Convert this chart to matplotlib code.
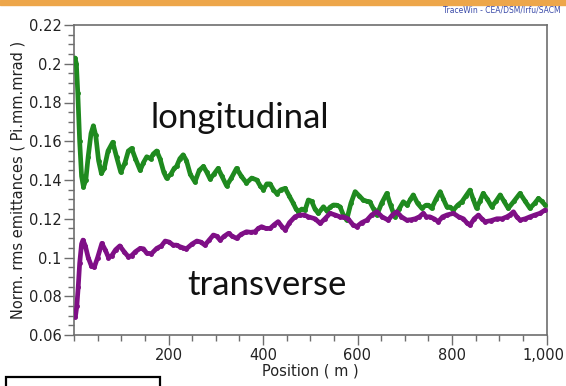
import matplotlib
matplotlib.use("Agg")
import matplotlib.pyplot as plt
import matplotlib.transforms as mtransforms
from matplotlib.ticker import MultipleLocator, FuncFormatter
from matplotlib.patches import Rectangle
import numpy as np

# ---- data ----
long_pos = [2, 5, 8, 12, 16, 20, 25, 30, 36, 41, 46, 52, 58, 64, 72, 82, 90, 99, 108, 115,
            122, 130, 140, 147, 154, 162, 168, 175, 182, 190, 196, 205, 212, 217, 224, 231,
            238, 246, 256, 265, 274, 281, 288, 296, 305, 313, 323, 333, 344, 354, 365, 376,
            387, 394, 401, 408, 415, 422, 429, 438, 447, 455, 464, 470, 475, 482, 489, 496,
            503, 510, 517, 528, 535, 542, 549, 556, 563, 570, 577, 586, 595, 603, 612, 620,
            626, 634, 641, 651, 662, 670, 679, 688, 697, 705, 712, 718, 727, 736, 745, 750,
            757, 766, 775, 782, 789, 796, 803, 812, 821, 830, 838, 845, 852, 859, 866, 875,
            884, 893, 902, 910, 919, 931, 944, 955, 965, 975, 983, 990, 997]
long_val = [0.203, 0.200, 0.185, 0.160, 0.142, 0.1365, 0.140, 0.152, 0.164, 0.168, 0.163, 0.150,
            0.1434, 0.146, 0.155, 0.1595, 0.152, 0.144, 0.149, 0.155, 0.1563, 0.151, 0.145,
            0.149, 0.152, 0.151, 0.1535, 0.155, 0.151, 0.144, 0.1409, 0.143, 0.146, 0.147,
            0.151, 0.153, 0.150, 0.143, 0.139, 0.145, 0.147, 0.144, 0.1405, 0.143, 0.146,
            0.142, 0.137, 0.141, 0.146, 0.142, 0.1385, 0.141, 0.140, 0.137, 0.135, 0.138,
            0.138, 0.135, 0.133, 0.135, 0.1357, 0.132, 0.128, 0.125, 0.1237, 0.125, 0.1245,
            0.1297, 0.129, 0.125, 0.1228, 0.1262, 0.124, 0.126, 0.1271, 0.127, 0.1262, 0.122,
            0.1193, 0.128, 0.134, 0.132, 0.1297, 0.129, 0.1288, 0.125, 0.1219, 0.128, 0.1331,
            0.127, 0.121, 0.125, 0.1288, 0.127, 0.130, 0.1323, 0.128, 0.1254, 0.127, 0.127,
            0.1254, 0.130, 0.134, 0.130, 0.1262, 0.126, 0.1245, 0.127, 0.1288, 0.132, 0.1348,
            0.130, 0.1254, 0.129, 0.1331, 0.130, 0.1262, 0.129, 0.1323, 0.129, 0.1254, 0.129,
            0.1331, 0.129, 0.1254, 0.128, 0.1305, 0.129, 0.1271]

trans_pos = [3, 6, 9, 12, 16, 19, 24, 30, 37, 43, 50, 59, 66, 73, 80, 88, 97, 106, 115, 122,
             130, 140, 147, 154, 164, 175, 185, 193, 201, 210, 217, 224, 231, 238, 250, 260,
             268, 277, 286, 295, 302, 309, 318, 327, 335, 344, 354, 365, 374, 383, 390, 397,
             406, 415, 424, 432, 440, 447, 456, 468, 478, 487, 496, 510, 521, 531, 542, 552,
             563, 570, 580, 590, 598, 609, 620, 630, 641, 652, 665, 674, 683, 693, 704, 713,
             722, 731, 739, 746, 753, 762, 771, 780, 790, 803, 814, 824, 831, 838, 847, 856,
             863, 870, 882, 895, 906, 916, 923, 930, 937, 944, 955, 965, 976, 986, 997]
trans_val = [0.0695, 0.075, 0.085, 0.097, 0.107, 0.109, 0.106, 0.100, 0.0955, 0.095, 0.100,
             0.1073, 0.104, 0.100, 0.101, 0.104, 0.106, 0.103, 0.1004, 0.101, 0.103, 0.1047,
             0.1045, 0.1022, 0.102, 0.1047, 0.106, 0.1085, 0.108, 0.1064, 0.1064, 0.1056,
             0.105, 0.1045, 0.107, 0.1085, 0.108, 0.1064, 0.109, 0.1116, 0.111, 0.109, 0.111,
             0.1125, 0.111, 0.1099, 0.112, 0.1133, 0.113, 0.1133, 0.115, 0.1159, 0.115, 0.115,
             0.117, 0.1185, 0.116, 0.1142, 0.118, 0.1211, 0.1219, 0.122, 0.121, 0.120, 0.1176,
             0.120, 0.1228, 0.122, 0.121, 0.121, 0.120, 0.117, 0.1159, 0.118, 0.1193, 0.122,
             0.1236, 0.121, 0.1193, 0.122, 0.1236, 0.121, 0.1193, 0.1195, 0.120, 0.121, 0.1228,
             0.121, 0.121, 0.120, 0.1185, 0.121, 0.122, 0.1228, 0.121, 0.120, 0.118, 0.1167,
             0.120, 0.1219, 0.120, 0.1185, 0.119, 0.120, 0.120, 0.121, 0.122, 0.1236, 0.121,
             0.1193, 0.120, 0.121, 0.122, 0.1228, 0.1245]

x_ticks = [200, 400, 600, 800, 1000]
y_ticks = [0.06, 0.08, 0.1, 0.12, 0.14, 0.16, 0.18, 0.2, 0.22]

green = "#1f8a1f"
purple = "#7f0f86"

fig = plt.figure(figsize=(5.66, 3.86), dpi=100)
fig.patch.set_facecolor("white")
ax = fig.add_axes([74/566, 1-335/386, (546.5-74)/566, (335-25)/386])

ax.plot(long_pos, long_val, color=green, lw=3.4, marker="o", ms=2.5,
        solid_joinstyle="round", solid_capstyle="round", zorder=3)
ax.plot(trans_pos, trans_val, color=purple, lw=3.4, marker="o", ms=2.5,
        solid_joinstyle="round", solid_capstyle="round", zorder=4)

ax.set_xlim(0, 1000)
ax.set_ylim(0.06, 0.22)
ax.set_xticks(x_ticks)
ax.set_yticks(y_ticks)
ax.xaxis.set_minor_locator(MultipleLocator(50))
ax.yaxis.set_minor_locator(MultipleLocator(0.005))
ax.xaxis.set_major_formatter(FuncFormatter(lambda v, p: f"{int(v):,}"))
ax.yaxis.set_major_formatter(FuncFormatter(lambda v, p: f"{v:.2f}".rstrip("0").rstrip(".") if abs(v - round(v, 1)) < 1e-9 else f"{v:.2f}"))

spine_col = "#6e6e6e"
for s in ax.spines.values():
    s.set_color(spine_col)
    s.set_linewidth(1.2)
ax.tick_params(which="major", direction="out", length=7, width=1.0, color=spine_col,
               labelsize=10.5, labelcolor="#222222", pad=2)
ax.tick_params(which="minor", direction="out", length=4, width=1.0, color=spine_col)
ax.tick_params(top=False, right=False, which="both")

ax.set_xlabel("Position ( m )", fontsize=10.5, color="#222222", labelpad=1)
ax.set_ylabel("Norm. rms emittances ( Pi.mm.mrad )", fontsize=10.5, color="#222222", labelpad=2)

ax.text(351, 0.172, "longitudinal", fontsize=25, family="Lato", color="#111111",
        ha="center", va="center")
ax.text(408, 0.0858, "transverse", fontsize=25, family="Lato", color="#111111",
        ha="center", va="center")

# nudge the last x tick label so it stays inside the picture
fig.canvas.draw()
last = ax.get_xticklabels()[-1]
last.set_transform(last.get_transform() + mtransforms.ScaledTranslation(-3/100, 0, fig.dpi_scale_trans))

# watermark and decorations
fig.text(0.99, 0.975, "TraceWin - CEA/DSM/Irfu/SACM", fontsize=5.5, color="#3a4aa8",
         ha="right", va="center")
fig.patches.append(Rectangle((0, 1-5/386), 1, 5/386, transform=fig.transFigure,
                             color="#eda64a", zorder=0))
fig.patches.append(Rectangle((6/566, -0.02), 154/566, (386-377)/386 + 0.02,
                             transform=fig.transFigure, fill=False, ec="black", lw=1.6))

fig.savefig("out.png", dpi=100)
